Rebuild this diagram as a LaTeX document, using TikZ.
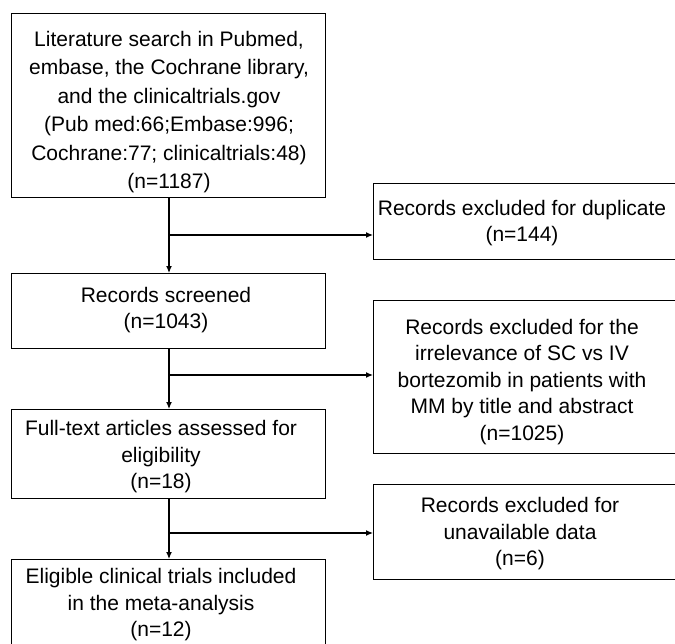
\documentclass[tikz,border=0pt]{standalone}
\usepackage{fontspec}
\setmainfont{Liberation Sans}
\usetikzlibrary{arrows.meta}
\begin{document}
\begin{tikzpicture}[x=1pt,y=-1pt,
  box/.style={draw=black, line width=1.4pt, inner sep=0pt, anchor=north west},
  txt/.style={align=center, inner sep=0pt, font=\fontsize{21}{26.5}\selectfont},
  arr/.style={line width=1.2pt, -{Latex[length=7pt,width=6pt]}},
  ln/.style={line width=1.2pt}]
\useasboundingbox (0,0) rectangle (675,643);
\begin{scope}
\clip (0,0) rectangle (675,643);
% boxes
\node[box, minimum width=314, minimum height=184] (b1) at (11,13) {};
\node[box, minimum width=360, minimum height=76]  (dup) at (373,183) {};
\node[box, minimum width=314, minimum height=75]  (b2) at (11,273) {};
\node[box, minimum width=360, minimum height=153] (mm) at (373,300) {};
\node[box, minimum width=314, minimum height=89]  (b3) at (11,409) {};
\node[box, minimum width=360, minimum height=95]  (una) at (373,484) {};
\node[box, minimum width=314, minimum height=120] (b4) at (11,559) {};
\end{scope}
% texts
\node[txt, font=\fontsize{21}{28.5}\selectfont] (t1) at (169,112)
  {Literature search in Pubmed,\\embase, the Cochrane library,\\and the clinicaltrials.gov\\(Pub med:66;Embase:996;\\Cochrane:77; clinicaltrials:48)\\(n=1187)};
\node[txt] (t2) at (522,223) {Records excluded for duplicate\\(n=144)};
\node[txt] (t3) at (166,310) {Records screened\\(n=1043)};
\node[txt] (t4) at (522,382) {Records excluded for the\\irrelevance of SC vs IV\\bortezomib in patients with\\MM by title and abstract\\(n=1025)};
\node[txt] (t5) at (161,457) {Full-text articles assessed for\\eligibility\\(n=18)};
\node[txt] (t6) at (520,534) {Records excluded for\\unavailable data\\(n=6)};
\node[txt] (t7) at (161,605) {Eligible clinical trials included\\in the meta-analysis\\(n=12)};
% junctions
\coordinate (j1) at (169,235);
\coordinate (j2) at (169,375);
\coordinate (j3) at (169,533);
% connectors
\draw[arr] (j1 |- b1.south) -- (j1 |- b2.north);
\draw[arr] (j1) -- (j1 -| dup.west);
\draw[arr] (j2 |- b2.south) -- (j2 |- b3.north);
\draw[arr] (j2) -- (j2 -| mm.west);
\draw[arr] (j3 |- b3.south) -- (j3 |- b4.north);
\draw[arr] (j3) -- (j3 -| una.west);
\end{tikzpicture}
\end{document}
